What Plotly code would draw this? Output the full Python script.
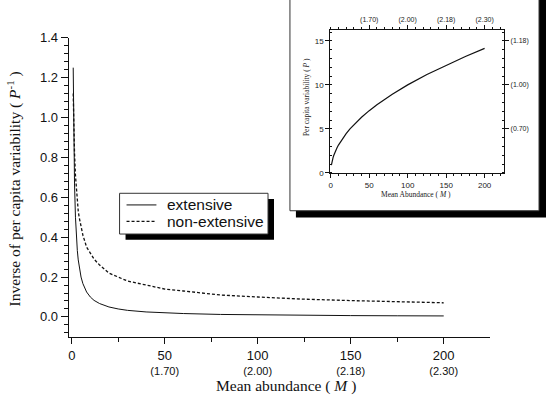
import plotly.graph_objects as go

W, H = 546, 403

# ---------------- data ----------------
M_main = [0.8, 0.9, 1, 1.2, 1.5, 2, 2.5, 3, 3.5, 4, 5, 6, 7, 8, 10, 12, 15, 20, 25, 30,
          40, 50, 60, 80, 100, 125, 150, 175, 200]
extensive = [1.25, 1.11, 1.0, 0.833, 0.667, 0.5, 0.4, 0.333, 0.286, 0.25, 0.2, 0.167,
             0.143, 0.125, 0.1, 0.083, 0.067, 0.05, 0.04, 0.033, 0.025, 0.02, 0.017,
             0.0125, 0.01, 0.008, 0.0067, 0.0057, 0.005]
non_extensive = [1.12, 1.05, 1.0, 0.91, 0.82, 0.71, 0.63, 0.58, 0.53, 0.5, 0.45, 0.41,
                 0.38, 0.35, 0.32, 0.29, 0.26, 0.22, 0.2, 0.18, 0.16, 0.14, 0.13, 0.11,
                 0.1, 0.089, 0.082, 0.076, 0.071]

M_inset = [0.8, 1, 1.5, 2, 3, 4, 5, 6, 8, 10, 15, 20, 25, 30, 40, 50, 60, 80, 100, 125,
           150, 175, 200]
P_inset = [0.89, 1.0, 1.22, 1.41, 1.73, 2.0, 2.24, 2.45, 2.83, 3.16, 3.87, 4.47, 5.0,
           5.48, 6.32, 7.07, 7.75, 8.94, 10.0, 11.18, 12.25, 13.23, 14.14]

main_xticks = [0, 50, 100, 150, 200]
main_xlog = ["", "(1.70)", "(2.00)", "(2.18)", "(2.30)"]
inset_xticks = [0, 50, 100, 150, 200]
inset_top_ticks = [50, 100, 150, 200]
inset_top_text = ["(1.70)", "(2.00)", "(2.18)", "(2.30)"]
inset_yticks = [0, 5, 10, 15]
inset_right_ticks = [5, 10, 15]
inset_right_text = ["(0.70)", "(1.00)", "(1.18)"]


def px(x):
    return x / W


def py(y):
    return 1 - y / H


SANS = "Liberation Sans, Arial, sans-serif"
SERIF = "Liberation Serif, Times New Roman, serif"

fig = go.Figure()
fig.add_trace(go.Scatter(x=M_main, y=extensive, mode="lines", name="extensive",
                         line=dict(color="#111", width=1), xaxis="x", yaxis="y"))
fig.add_trace(go.Scatter(x=M_main, y=non_extensive, mode="lines", name="non-extensive",
                         line=dict(color="#111", width=1.3, dash="3px,2px"),
                         xaxis="x", yaxis="y"))
fig.add_trace(go.Scatter(x=M_inset, y=P_inset, mode="lines", name="P",
                         line=dict(color="#111", width=1.2), xaxis="x3", yaxis="y3"))
# invisible twin so that the inset's top / right axes are drawn
fig.add_trace(go.Scatter(x=M_inset, y=P_inset, mode="lines", name="P twin",
                         line=dict(color="rgba(0,0,0,0)", width=0), hoverinfo="skip",
                         xaxis="x4", yaxis="y4"))

# main plot geometry (pixels)
L, R, T, B = 67, 490, 31.7, 340
xr = [-1.6, 225.0]
yr = [-0.1, 1.4]
ppu_x = (R - L) / (xr[1] - xr[0])
ppu_y = (B - T) / (yr[1] - yr[0])
inset_left = 289
inset_bottom = 210
top_cut = inset_left
right_cut = inset_bottom + 7

tickfont = dict(family=SANS, size=13, color="#111")
ticktext = [f"<span style='font-size:13px'>{v}</span>" if not s else
            f"<span style='font-size:13px'>{v}</span><br>{s}"
            for v, s in zip(main_xticks, main_xlog)]

common = dict(showgrid=False, zeroline=False, showline=True, linecolor="#111",
              tickcolor="#111", tickwidth=1)

inset_x_range = [-0.6, 225.4]
inset_y_range = [0, 16.2]

fig.update_layout(
    width=W, height=H, margin=dict(l=0, r=0, t=0, b=0),
    paper_bgcolor="white", plot_bgcolor="rgba(0,0,0,0)", showlegend=False,
    xaxis=dict(domain=[px(L), px(R)], range=xr, anchor="y", side="bottom",
               linewidth=1.3, ticks="outside", ticklen=6, tickvals=main_xticks,
               ticktext=ticktext, tickfont=dict(family=SANS, size=11, color="#111"),
               ticklabelstandoff=3,
               minor=dict(tickvals=[25, 75, 125, 175], ticks="outside", ticklen=4,
                          tickcolor="#111", tickwidth=1),
               **common),
    yaxis=dict(domain=[py(B), py(T)], range=yr, anchor="x", side="left",
               linewidth=1.3, ticks="outside", ticklen=7, tick0=0, dtick=0.2,
               tickformat=".1f", tickfont=tickfont,
               minor=dict(tick0=0, dtick=0.04, ticks="outside", ticklen=4,
                          tickcolor="#111", tickwidth=1),
               **common),
    xaxis2=dict(domain=[px(L), px(top_cut)],
                range=[xr[0], xr[0] + (top_cut - L) / ppu_x], anchor="y", side="top",
                linewidth=1.3, ticks="outside", ticklen=7, tickvals=[0, 50, 100],
                showticklabels=False,
                minor=dict(tickvals=[25, 75], ticks="outside", ticklen=7,
                           tickcolor="#111", tickwidth=1),
                **common),
    yaxis2=dict(domain=[py(B), py(right_cut)],
                range=[yr[0], yr[0] + (B - right_cut) / ppu_y], anchor="x", side="right",
                linewidth=1.3, ticks="inside", ticklen=7, tick0=0, dtick=0.2,
                showticklabels=False,
                minor=dict(tick0=0, dtick=0.04, ticks="inside", ticklen=4,
                           tickcolor="#111", tickwidth=1),
                **common),
    # inset
    xaxis3=dict(domain=[px(329.5), px(504)], range=inset_x_range, anchor="y3",
                linewidth=1, ticks="outside", ticklen=4, tickvals=inset_xticks,
                tickfont=dict(family=SANS, size=8, color="#222"),
                minor=dict(tick0=0, dtick=10, ticks="outside", ticklen=2,
                           tickcolor="#111", tickwidth=1),
                **common),
    yaxis3=dict(domain=[py(171), py(24)], range=inset_y_range, anchor="x3",
                linewidth=1, ticks="outside", ticklen=4, tickvals=inset_yticks,
                tickfont=dict(family=SANS, size=8, color="#222"),
                minor=dict(tick0=0, dtick=1, ticks="inside", ticklen=2,
                           tickcolor="#111", tickwidth=1),
                **common),
    xaxis4=dict(overlaying="x3", anchor="y3", side="top", range=inset_x_range,
                linewidth=1, ticks="outside", ticklen=4, tickvals=inset_top_ticks,
                ticktext=inset_top_text,
                tickfont=dict(family=SANS, size=7, color="#222"),
                minor=dict(tick0=0, dtick=10, ticks="outside", ticklen=2,
                           tickcolor="#111", tickwidth=1),
                **common),
    yaxis4=dict(overlaying="y3", anchor="x3", side="right", range=inset_y_range,
                linewidth=1, ticks="outside", ticklen=4, tickvals=inset_right_ticks,
                ticktext=inset_right_text,
                tickfont=dict(family=SANS, size=7, color="#222"),
                minor=dict(tick0=0, dtick=1, ticks="inside", ticklen=2,
                           tickcolor="#111", tickwidth=1),
                **common),
)

shapes = []
# inset panel shadow + box
shapes.append(dict(type="rect", xref="paper", yref="paper", layer="below",
                   x0=px(inset_left + 6), x1=px(546), y0=py(217), y1=py(-20),
                   fillcolor="black", line=dict(width=0)))
shapes.append(dict(type="rect", xref="paper", yref="paper", layer="below",
                   x0=px(inset_left), x1=px(539), y0=py(inset_bottom), y1=py(-20),
                   fillcolor="white", line=dict(color="#333", width=1)))
# legend shadow + box
shapes.append(dict(type="rect", xref="paper", yref="paper", layer="below",
                   x0=px(124), x1=px(273), y0=py(240), y1=py(198),
                   fillcolor="black", line=dict(width=0)))
shapes.append(dict(type="rect", xref="paper", yref="paper", layer="below",
                   x0=px(118), x1=px(267), y0=py(234), y1=py(192),
                   fillcolor="white", line=dict(color="#333", width=1)))
# legend samples
shapes.append(dict(type="line", xref="paper", yref="paper", layer="below",
                   x0=px(125), x1=px(155), y0=py(204), y1=py(204),
                   line=dict(color="#111", width=1)))
shapes.append(dict(type="line", xref="paper", yref="paper", layer="below",
                   x0=px(125), x1=px(155), y0=py(221), y1=py(221),
                   line=dict(color="#111", width=1.2, dash="3px,2px")))
fig.update_layout(shapes=shapes)

ann = []
ann.append(dict(text="extensive", x=px(164), y=py(204), xref="paper", yref="paper",
                xanchor="left", yanchor="middle", showarrow=False,
                font=dict(family=SANS, size=15.5, color="#111")))
ann.append(dict(text="non-extensive", x=px(164), y=py(221.5), xref="paper", yref="paper",
                xanchor="left", yanchor="middle", showarrow=False,
                font=dict(family=SANS, size=15.5, color="#111")))
ann.append(dict(text="Inverse of per capita variability ( <i>P</i><sup>-1</sup> )",
                x=px(12), y=py(187), xref="paper", yref="paper", textangle=-90,
                xanchor="center", yanchor="middle", showarrow=False,
                font=dict(family=SERIF, size=15.5, color="#111")))
ann.append(dict(text="Mean abundance ( <i>M</i> )", x=px(285), y=py(391),
                xref="paper", yref="paper", xanchor="center", yanchor="middle",
                showarrow=False, font=dict(family=SERIF, size=15.5, color="#111")))
ann.append(dict(text="Per capita variability ( <i>P</i> )", x=px(305), y=py(93),
                xref="paper", yref="paper", textangle=-90, xanchor="center",
                yanchor="middle", showarrow=False,
                font=dict(family=SERIF, size=7.5, color="#222")))
ann.append(dict(text="Mean Abundance ( <i>M</i> )", x=px(416), y=py(193),
                xref="paper", yref="paper", xanchor="center", yanchor="middle",
                showarrow=False, font=dict(family=SERIF, size=7.5, color="#222")))
fig.update_layout(annotations=ann)

fig.write_html("out.html")
